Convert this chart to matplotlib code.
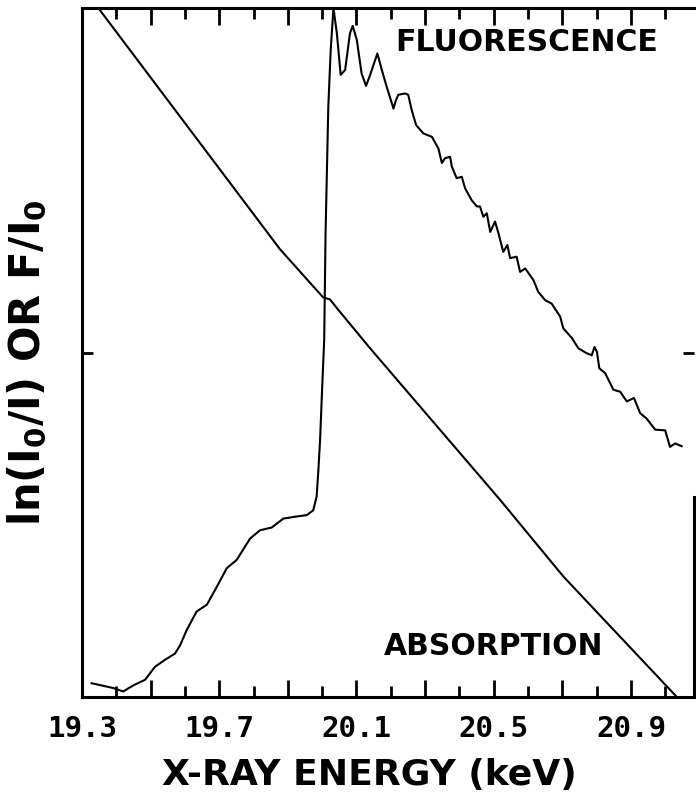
import numpy as np
import matplotlib
matplotlib.use("Agg")
import matplotlib.pyplot as plt

# fluorescence trace F/I0 (arbitrary units, 0..1)
fluor_E = [19.328, 19.391, 19.420, 19.450, 19.484, 19.513, 19.542, 19.571, 19.586, 19.605,
           19.634, 19.664, 19.693, 19.722, 19.751, 19.790, 19.819, 19.853, 19.887, 19.926,
           19.955, 19.974, 19.984, 19.989, 19.994, 20.001, 20.006, 20.010, 20.018, 20.025,
           20.033, 20.043, 20.054, 20.067, 20.081, 20.089, 20.101, 20.115, 20.128, 20.140,
           20.161, 20.174, 20.188, 20.208, 20.215, 20.222, 20.242, 20.251, 20.261, 20.274,
           20.295, 20.320, 20.339, 20.349, 20.358, 20.373, 20.378, 20.392, 20.407, 20.417,
           20.436, 20.451, 20.460, 20.470, 20.480, 20.490, 20.504, 20.514, 20.528, 20.540,
           20.548, 20.567, 20.577, 20.592, 20.616, 20.630, 20.650, 20.669, 20.694, 20.703,
           20.728, 20.747, 20.771, 20.786, 20.794, 20.801, 20.808, 20.825, 20.849, 20.869,
           20.888, 20.909, 20.927, 20.946, 20.971, 21.000, 21.014, 21.029, 21.048]
fluor_I = [0.020, 0.013, 0.008, 0.017, 0.025, 0.044, 0.054, 0.063, 0.075, 0.097,
           0.124, 0.134, 0.160, 0.187, 0.199, 0.230, 0.242, 0.246, 0.259, 0.262,
           0.264, 0.271, 0.291, 0.329, 0.373, 0.460, 0.518, 0.673, 0.857, 0.939,
           1.000, 0.963, 0.903, 0.910, 0.963, 0.974, 0.954, 0.905, 0.887, 0.903,
           0.934, 0.910, 0.886, 0.854, 0.866, 0.874, 0.876, 0.874, 0.852, 0.830,
           0.818, 0.813, 0.796, 0.775, 0.782, 0.784, 0.770, 0.753, 0.755, 0.738,
           0.721, 0.712, 0.712, 0.697, 0.702, 0.675, 0.690, 0.673, 0.646, 0.656,
           0.637, 0.639, 0.617, 0.622, 0.605, 0.588, 0.576, 0.571, 0.552, 0.535,
           0.521, 0.506, 0.499, 0.496, 0.508, 0.501, 0.477, 0.470, 0.446, 0.443,
           0.429, 0.434, 0.412, 0.404, 0.388, 0.387, 0.363, 0.368, 0.364]

# absorption trace ln(I0/I)
absorb_E = [19.352, 19.644, 19.877, 19.974, 20.003, 20.023, 20.047, 20.140, 20.519, 20.703, 21.034]
absorb_I = [0.997, 0.804, 0.650, 0.596, 0.580, 0.577, 0.562, 0.506, 0.286, 0.175, 0.000]

tick_pos = [19.3, 19.5, 19.7, 19.9, 20.1, 20.3, 20.5, 20.7, 20.9]
tick_lbl = ['19.3', '', '19.7', '', '20.1', '', '20.5', '', '20.9']

fig = plt.figure(figsize=(6.96, 7.93), dpi=100)
ax = fig.add_axes([82 / 696, 1 - 697 / 793, 612 / 696, 689 / 793])

ax.plot(fluor_E, fluor_I, color='black', lw=1.5)
ax.plot(absorb_E, absorb_I, color='black', lw=1.5)

ax.set_xlim(19.3, 21.084)
ax.set_ylim(0, 1)

ax.set_xticks(tick_pos)
ax.set_xticklabels(tick_lbl, fontfamily='DejaVu Sans Mono', fontweight='bold', fontsize=21)
ax.set_xticks(np.arange(19.4, 21.05, 0.2), minor=True)
ax.set_yticks([0.5])
ax.set_yticklabels([])
ax.tick_params(axis='both', which='major', direction='in', length=12, width=2,
               top=True, right=True, pad=13)
ax.tick_params(axis='both', which='minor', direction='in', length=8, width=2, top=True)
ax.tick_params(axis='y', length=8)

for s in ax.spines.values():
    s.set_linewidth(2.2)
ax.spines['right'].set_bounds(0, 0.29)

ax.text(0.726, 0.950, 'FLUORESCENCE', transform=ax.transAxes, ha='center', va='center',
        fontsize=21.5, fontweight='bold')
ax.text(0.672, 0.074, 'ABSORPTION', transform=ax.transAxes, ha='center', va='center',
        fontsize=21.5, fontweight='bold')

fig.text(369 / 696, 1 - 775 / 793, 'X-RAY ENERGY (keV)', ha='center', va='center',
         fontsize=26, fontweight='bold')
fig.text(28 / 696, 1 - 363 / 793, r'ln(I$_\mathbf{0}$/I) OR F/I$_\mathbf{0}$',
         rotation=90, ha='center', va='center', fontsize=30, fontweight='bold')

plt.savefig('out.png', dpi=100)
